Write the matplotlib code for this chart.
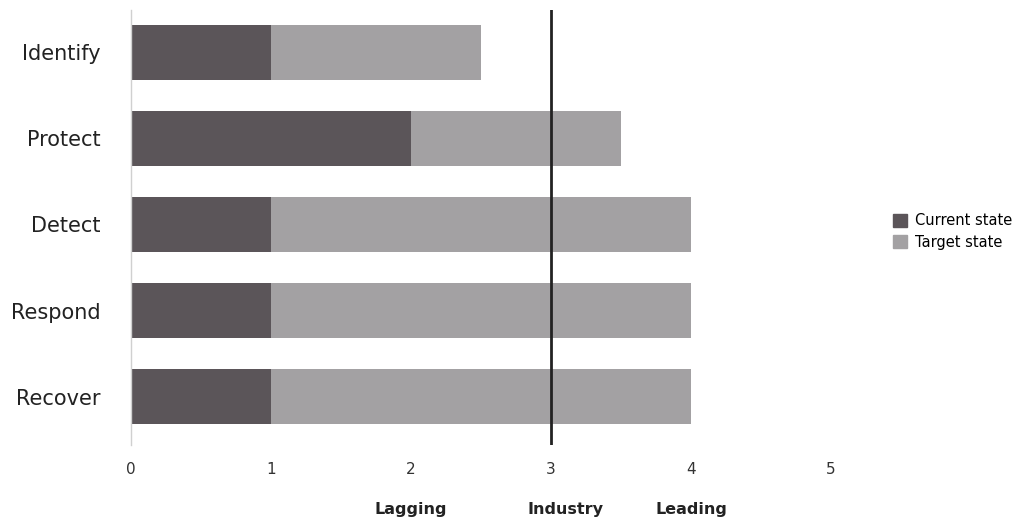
import matplotlib
matplotlib.use("Agg")
import numpy as np
from matplotlib import pyplot as plt
from matplotlib.patches import Patch
import matplotlib.transforms as mtransforms

functions = ["Identify", "Protect", "Detect", "Respond", "Recover"]
current_state = [1, 2, 1, 1, 1]
target_state = [2.5, 3.5, 4, 4, 4]
industry_level = 3
x_ticks = [0, 1, 2, 3, 4, 5]
scale_labels = ["Lagging", "Industry", "Leading"]
scale_positions = [2, 3.1, 4]

current_color = "#5b5559"
target_color = "#a3a1a3"

fig = plt.figure(figsize=(10.35, 5.22), dpi=100)
ax = fig.add_axes([0.1266, 0.1475, 0.803 - 0.1266, 0.981 - 0.1475])

y = np.arange(len(functions))
current = np.array(current_state)
target = np.array(target_state)

ax.barh(y, current, height=0.64, color=current_color, label="Current state")
ax.barh(y, target - current, left=current, height=0.64, color=target_color,
        label="Target state")

ax.axvline(industry_level, color="#222222", lw=2, zorder=3)

ax.set_xlim(0, 5)
ax.set_ylim(len(functions) - 0.44, -0.49)
ax.set_yticks(y)
ax.set_yticklabels(functions, fontsize=15, color="#222222")
ax.set_xticks(x_ticks)
ax.set_xticklabels([str(t) for t in x_ticks], fontsize=11, color="#333333")
ax.tick_params(axis="both", length=0)
ax.tick_params(axis="x", pad=12)
ax.tick_params(axis="y", pad=22)

for side in ["top", "right", "bottom"]:
    ax.spines[side].set_visible(False)
ax.spines["left"].set_color("#d0d0d0")
ax.spines["left"].set_linewidth(1)

# maturity scale names under the axis
trans = mtransforms.blended_transform_factory(ax.transData, fig.transFigure)
for lbl, xpos in zip(scale_labels, scale_positions):
    ax.text(xpos, 0.023, lbl, transform=trans, ha="center", va="center",
            fontsize=11.5, fontweight="bold", color="#222222")

handles = [Patch(color=current_color, label="Current state"),
           Patch(color=target_color, label="Target state")]
fig.legend(handles=handles, loc="upper left", bbox_to_anchor=(0.857, 0.603),
           frameon=False, fontsize=10.5, handlelength=1.0, handleheight=1.0,
           handletextpad=0.5, labelspacing=0.45, borderaxespad=0)

fig.savefig("out.png", dpi=100)
